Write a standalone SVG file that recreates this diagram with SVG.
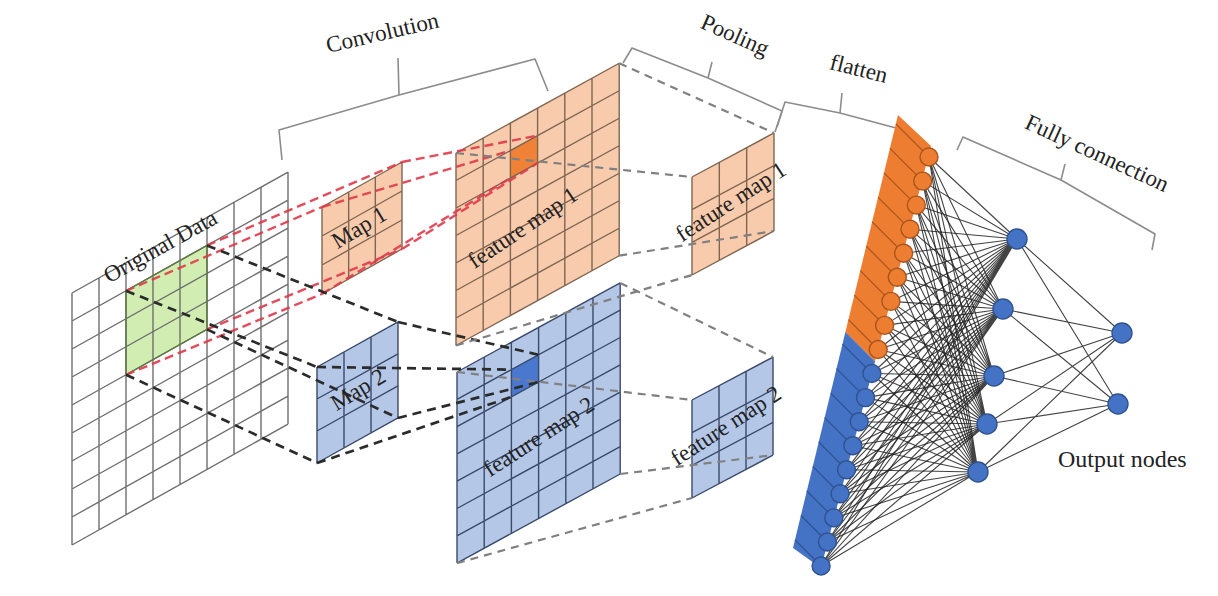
<svg xmlns="http://www.w3.org/2000/svg" width="1218" height="596" viewBox="0 0 1218 596">
<style>
.gl{fill:none;stroke-width:1.4;vector-effect:non-scaling-stroke}
.gray{stroke:#6f6f6f}
.brn{stroke:#7f6652}
.bln{stroke:#3a4a6a}
.og{fill:#F8CBAD}
.bf{fill:#B4C7E7}
.lbl{font-family:"Liberation Serif","Times New Roman",serif;font-size:23px;fill:#222}
.red{fill:none;stroke:#E03848;stroke-width:2.4;stroke-dasharray:9 5;opacity:.9}
.blk{fill:none;stroke:#2b2b2b;stroke-width:2.7;stroke-dasharray:9 6}
.gry{fill:none;stroke:#808080;stroke-width:2.2;stroke-dasharray:8 6}
.brace{fill:none;stroke:#8c8c8c;stroke-width:1.6;stroke-linejoin:round}
.fc{fill:none;stroke:#222;stroke-width:1.1;opacity:.85}
.on{fill:#ED7D31;stroke:#A9541C;stroke-width:1.4}
.bn{fill:#4472C4;stroke:#2F528F;stroke-width:1.4}
</style>

<g id="original-data">
  <g transform="matrix(1,-0.56,0,1,72,293)">
    <rect x="54" y="28" width="81" height="84" fill="#D2EDB2"/>
    <path class="gl gray" d="M0,0V252M27,0V252M54,0V252M81,0V252M108,0V252M135,0V252M162,0V252M189,0V252M216,0V252M0,0H216M0,28H216M0,56H216M0,84H216M0,112H216M0,140H216M0,168H216M0,196H216M0,224H216M0,252H216"/>
    <path d="M54,28H135V112H54Z" fill="none" stroke="#5d7a45" stroke-width="1.4" vector-effect="non-scaling-stroke"/>
  </g>
  <text class="lbl" transform="translate(164,253) rotate(-29)" text-anchor="middle">Original Data</text>
</g>

<g id="map1">
  <g transform="matrix(1,-0.5625,0,1,322,207)">
    <rect width="80" height="87" class="og"/>
    <path class="gl brn" d="M0,0V87M26.67,0V87M53.33,0V87M80,0V87M0,0H80M0,29H80M0,58H80M0,87H80"/>
  </g>
</g>

<g id="map2">
  <g transform="matrix(1,-0.556,0,1,317,367)">
    <rect width="81" height="96" class="bf"/>
    <path class="gl bln" d="M0,0V96M27,0V96M54,0V96M81,0V96M0,0H81M0,32H81M0,64H81M0,96H81"/>
  </g>
</g>

<g id="feature-map-1">
  <g transform="matrix(1,-0.55,0,1,456,153)">
    <rect width="163.2" height="192.5" class="og"/>
    <rect x="54.4" y="27.5" width="27.2" height="27.5" fill="#EF8236"/>
    <path class="gl brn" d="M0,0V192.5M27.2,0V192.5M54.4,0V192.5M81.6,0V192.5M108.8,0V192.5M136,0V192.5M163.2,0V192.5M0,0H163.2M0,27.5H163.2M0,55H163.2M0,82.5H163.2M0,110H163.2M0,137.5H163.2M0,165H163.2M0,192.5H163.2"/>
  </g>
</g>

<g id="feature-map-2">
  <g transform="matrix(1,-0.546,0,1,457,372)">
    <rect width="163.2" height="191.1" class="bf"/>
    <rect x="54.4" y="27.3" width="27.2" height="27.3" fill="#4A78CF"/>
    <path class="gl bln" d="M0,0V191.1M27.2,0V191.1M54.4,0V191.1M81.6,0V191.1M108.8,0V191.1M136,0V191.1M163.2,0V191.1M0,0H163.2M0,27.3H163.2M0,54.6H163.2M0,81.9H163.2M0,109.2H163.2M0,136.5H163.2M0,163.8H163.2M0,191.1H163.2"/>
  </g>
</g>

<g id="pooled-map-1">
  <g transform="matrix(1,-0.537,0,1,692,177)">
    <rect width="82" height="98" class="og"/>
    <path class="gl brn" d="M0,0V98M27.33,0V98M54.67,0V98M82,0V98M0,0H82M0,32.67H82M0,65.33H82M0,98H82"/>
  </g>
</g>

<g id="pooled-map-2">
  <g transform="matrix(1,-0.53,0,1,692,400)">
    <rect width="81" height="98" class="bf"/>
    <path class="gl bln" d="M0,0V98M27,0V98M54,0V98M81,0V98M0,0H81M0,32.67H81M0,65.33H81M0,98H81"/>
  </g>
</g>

<g id="connectors">
  <path class="red" d="M126,290.8L322,207M207,245.4L402,162M126,374.8L322,294M207,329.4L402,249"/>
  <path class="red" d="M322,207L510.4,150.6M402,162L537.6,135.6M322,294L510.4,178.1M402,249L537.6,163.1"/>
  <path class="blk" d="M126,290.8L317,367M207,245.4L398,322M126,374.8L317,463M207,329.4L398,418"/>
  <path class="blk" d="M317,367L511.4,369.6M398,322L538.6,354.8M317,463L511.4,396.9M398,418L538.6,382"/>
  <path class="gry" d="M456,153L692,177M619.2,63.2L774,133M456,345.5L692,275M619.2,255.7L774,231"/>
  <path class="gry" d="M457,372L692,400M620.2,282.9L773,357.1M457,563.1L692,498M620.2,474L773,455.1"/>
</g>

<g id="labels-maps">
  <text class="lbl" transform="translate(363,234) rotate(-31)" text-anchor="middle">Map 1</text>
  <text class="lbl" transform="translate(362,396) rotate(-31)" text-anchor="middle">Map 2</text>
  <text class="lbl" transform="translate(527,234) rotate(-34)" text-anchor="middle">feature map 1</text>
  <text class="lbl" transform="translate(543,443) rotate(-33)" text-anchor="middle">feature map 2</text>
  <text class="lbl" transform="translate(735,208) rotate(-33)" text-anchor="middle">feature map 1</text>
  <text class="lbl" transform="translate(730,432) rotate(-33)" text-anchor="middle">feature map 2</text>
</g>

<g id="braces">
  <path class="brace" d="M282,160L279,130L399,95L398,58M399,95L535,59L548,91"/>
  <path class="brace" d="M623,63L632,48L708,78L712,62M708,78L782,111L775,132"/>
  <path class="brace" d="M777,127L785,102L840,113L842,93M840,113L896,128"/>
  <path class="brace" d="M957,150L963,137L1061,180L1065,164M1061,180L1155,234L1152,250"/>
  <text class="lbl" transform="translate(384,40) rotate(-13)" text-anchor="middle">Convolution</text>
  <text class="lbl" transform="translate(732,42) rotate(24)" text-anchor="middle">Pooling</text>
  <text class="lbl" transform="translate(857,76) rotate(14)" text-anchor="middle">flatten</text>
  <text class="lbl" transform="translate(1094,160) rotate(24.6)" text-anchor="middle">Fully connection</text>
</g>

<g id="flatten">
  <polygon points="898,115 931,146 875,361.5 845.4,331.9" fill="#ED7D31"/>
  <polygon points="845.4,331.9 875,361.5 821,568 793,548" fill="#4472C4"/>
  <path fill="none" stroke="#A9541C" stroke-width="1.2" d="M895.9,123.9L929,157M889.9,148.3L922.7,181.1M884,172.8L916.3,205.1M878.1,197.3L910,229.2M872.1,221.8L903.6,253.2M866.2,246.2L897.3,277.3M860.2,270.7L890.9,301.4M854.3,295.2L884.6,325.4M848.4,319.7L878.2,349.5"/>
  <path fill="none" stroke="#2F528F" stroke-width="1.2" d="M842.4,344.1L871.9,373.5M836.5,368.6L865.5,397.6M830.6,393.1L859.2,421.7M824.6,417.6L852.8,445.7M818.7,442L846.5,469.8M812.8,466.5L840.1,493.8M806.8,491L833.8,517.9M800.9,515.5L827.4,542M795,539.9L821.1,566"/>
</g>

<g id="fc-connectors">
  <path class="fc" d="M929,157L1017,239M922.7,181.1L1017,239M916.3,205.1L1017,239M910,229.2L1017,239M903.6,253.2L1017,239M897.3,277.3L1017,239M890.9,301.4L1017,239M884.6,325.4L1017,239M878.2,349.5L1017,239M871.9,373.5L1017,239M865.5,397.6L1017,239M859.2,421.7L1017,239M852.8,445.7L1017,239M846.5,469.8L1017,239M840.1,493.8L1017,239M833.8,517.9L1017,239M827.4,542L1017,239M821.1,566L1017,239"/>
  <path class="fc" d="M929,157L1003,309M922.7,181.1L1003,309M916.3,205.1L1003,309M910,229.2L1003,309M903.6,253.2L1003,309M897.3,277.3L1003,309M890.9,301.4L1003,309M884.6,325.4L1003,309M878.2,349.5L1003,309M871.9,373.5L1003,309M865.5,397.6L1003,309M859.2,421.7L1003,309M852.8,445.7L1003,309M846.5,469.8L1003,309M840.1,493.8L1003,309M833.8,517.9L1003,309M827.4,542L1003,309M821.1,566L1003,309"/>
  <path class="fc" d="M929,157L994,376M922.7,181.1L994,376M916.3,205.1L994,376M910,229.2L994,376M903.6,253.2L994,376M897.3,277.3L994,376M890.9,301.4L994,376M884.6,325.4L994,376M878.2,349.5L994,376M871.9,373.5L994,376M865.5,397.6L994,376M859.2,421.7L994,376M852.8,445.7L994,376M846.5,469.8L994,376M840.1,493.8L994,376M833.8,517.9L994,376M827.4,542L994,376M821.1,566L994,376"/>
  <path class="fc" d="M929,157L987,424M922.7,181.1L987,424M916.3,205.1L987,424M910,229.2L987,424M903.6,253.2L987,424M897.3,277.3L987,424M890.9,301.4L987,424M884.6,325.4L987,424M878.2,349.5L987,424M871.9,373.5L987,424M865.5,397.6L987,424M859.2,421.7L987,424M852.8,445.7L987,424M846.5,469.8L987,424M840.1,493.8L987,424M833.8,517.9L987,424M827.4,542L987,424M821.1,566L987,424"/>
  <path class="fc" d="M929,157L978,472M922.7,181.1L978,472M916.3,205.1L978,472M910,229.2L978,472M903.6,253.2L978,472M897.3,277.3L978,472M890.9,301.4L978,472M884.6,325.4L978,472M878.2,349.5L978,472M871.9,373.5L978,472M865.5,397.6L978,472M859.2,421.7L978,472M852.8,445.7L978,472M846.5,469.8L978,472M840.1,493.8L978,472M833.8,517.9L978,472M827.4,542L978,472M821.1,566L978,472"/>
  <path class="fc" d="M1017,239L1122,333M1003,309L1122,333M994,376L1122,333M987,424L1122,333M978,472L1122,333M1017,239L1118,404M1003,309L1118,404M994,376L1118,404M987,424L1118,404M978,472L1118,404"/>
</g>

<g id="flatten-nodes">
  <circle class="on" cx="929" cy="157" r="9"/>
  <circle class="on" cx="922.7" cy="181.1" r="9"/>
  <circle class="on" cx="916.3" cy="205.1" r="9"/>
  <circle class="on" cx="910" cy="229.2" r="9"/>
  <circle class="on" cx="903.6" cy="253.2" r="9"/>
  <circle class="on" cx="897.3" cy="277.3" r="9"/>
  <circle class="on" cx="890.9" cy="301.4" r="9"/>
  <circle class="on" cx="884.6" cy="325.4" r="9"/>
  <circle class="on" cx="878.2" cy="349.5" r="9"/>
  <circle class="bn" cx="871.9" cy="373.5" r="9"/>
  <circle class="bn" cx="865.5" cy="397.6" r="9"/>
  <circle class="bn" cx="859.2" cy="421.7" r="9"/>
  <circle class="bn" cx="852.8" cy="445.7" r="9"/>
  <circle class="bn" cx="846.5" cy="469.8" r="9"/>
  <circle class="bn" cx="840.1" cy="493.8" r="9"/>
  <circle class="bn" cx="833.8" cy="517.9" r="9"/>
  <circle class="bn" cx="827.4" cy="542" r="9"/>
  <circle class="bn" cx="821.1" cy="566" r="9"/>
</g>

<g id="hidden-nodes">
  <circle class="bn" cx="1017" cy="239" r="10"/>
  <circle class="bn" cx="1003" cy="309" r="10"/>
  <circle class="bn" cx="994" cy="376" r="10"/>
  <circle class="bn" cx="987" cy="424" r="10"/>
  <circle class="bn" cx="978" cy="472" r="10"/>
</g>

<g id="output-nodes">
  <circle class="bn" cx="1122" cy="333" r="10"/>
  <circle class="bn" cx="1118" cy="404" r="10"/>
  <text class="lbl" x="1058" y="467" style="font-size:24px">Output nodes</text>
</g>
</svg>
